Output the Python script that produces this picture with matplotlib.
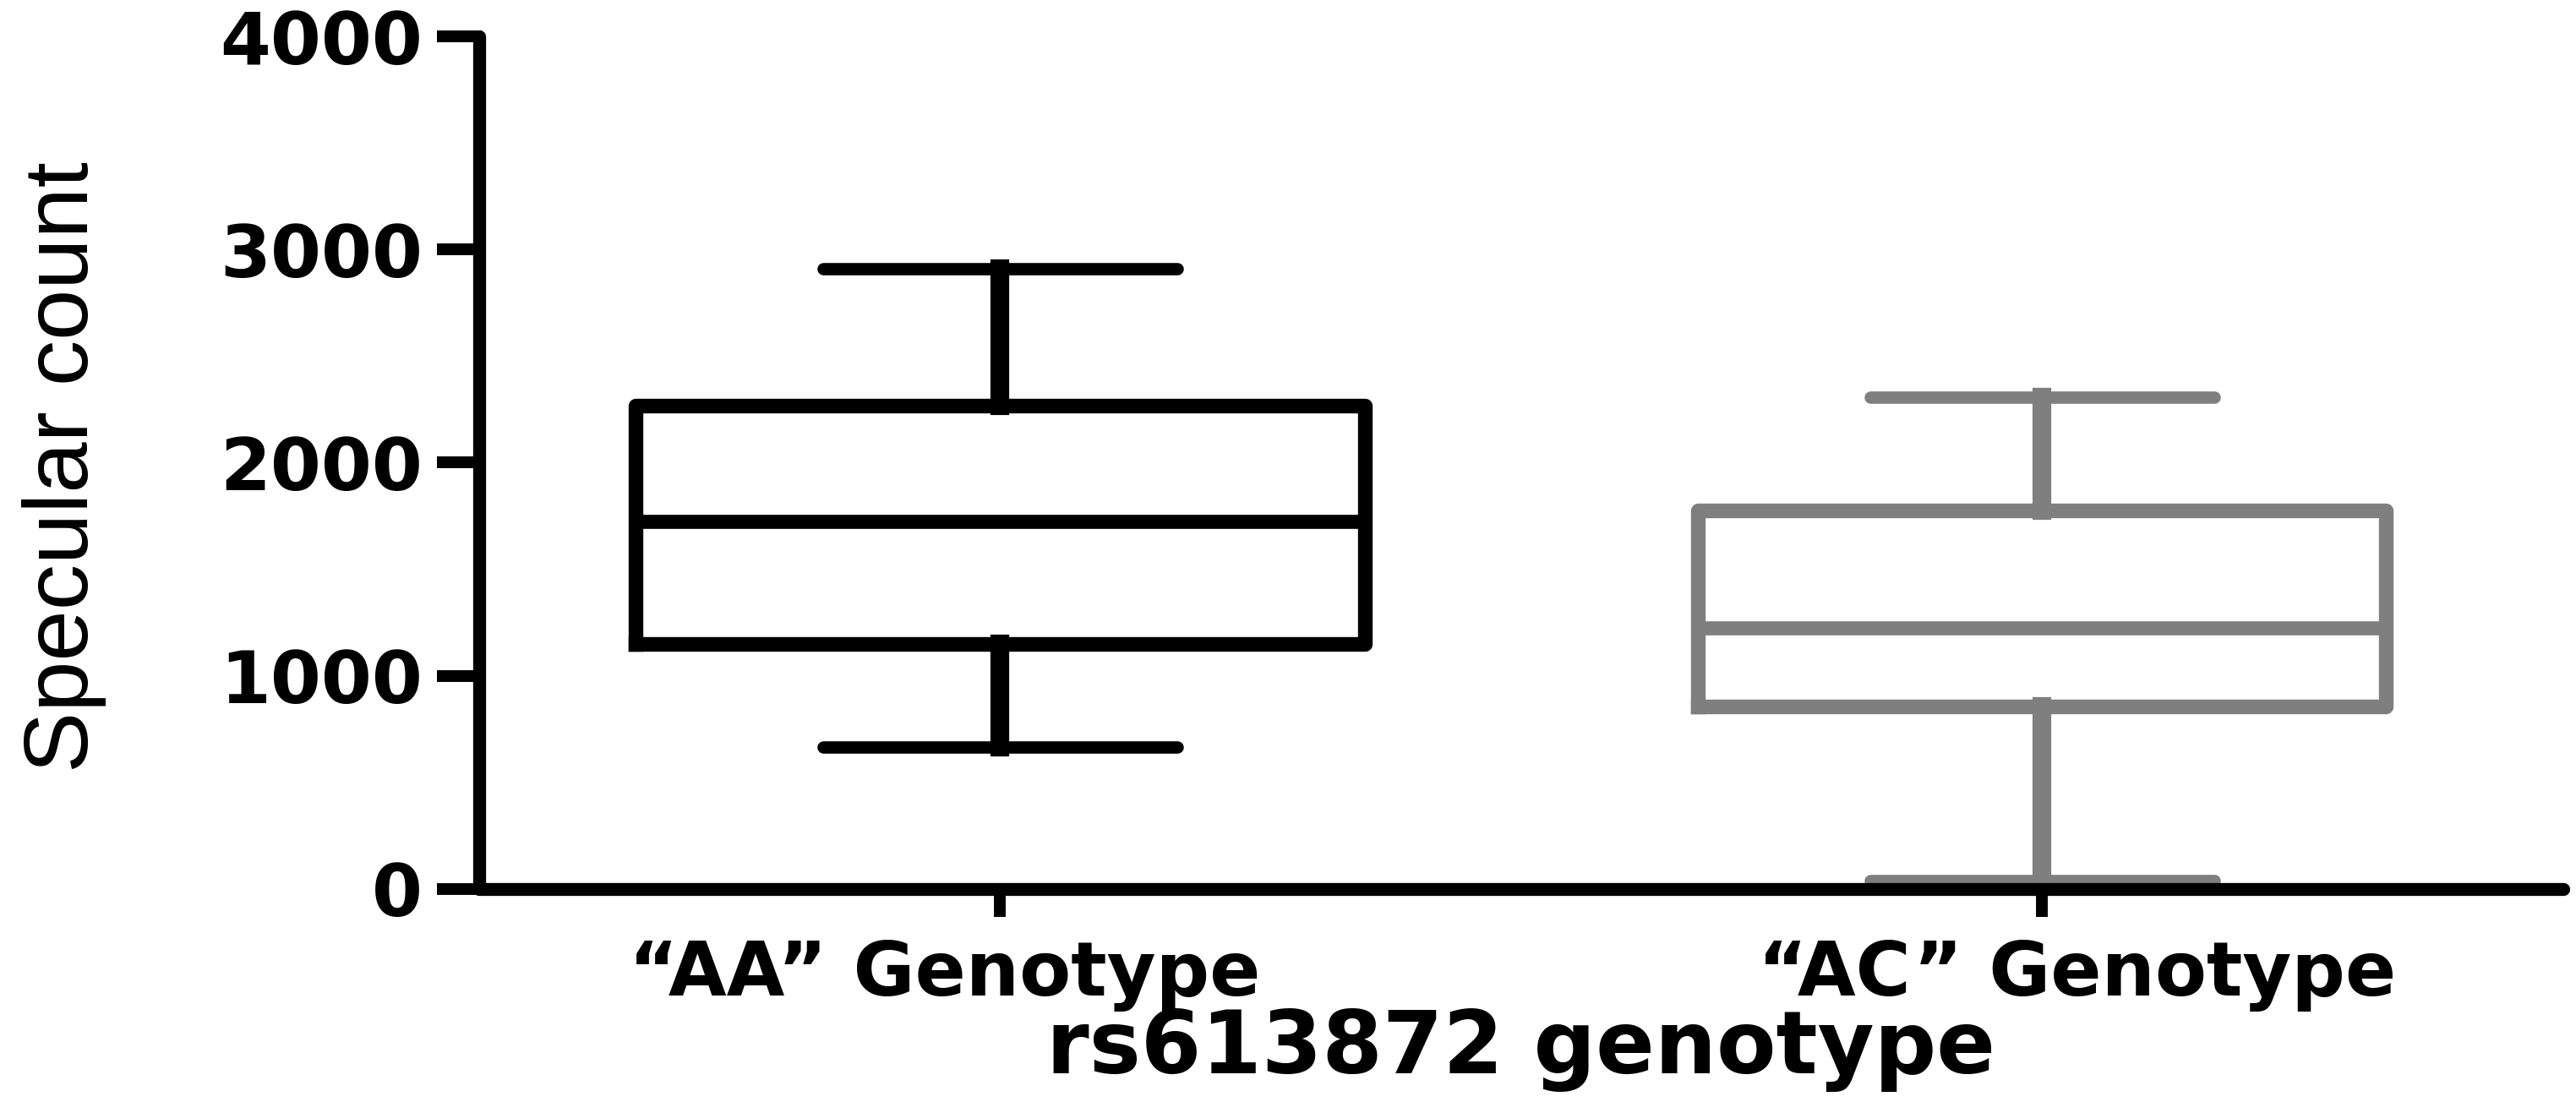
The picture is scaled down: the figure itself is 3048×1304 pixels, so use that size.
import numpy as np
import matplotlib
matplotlib.use("Agg")
import matplotlib.pyplot as plt

# Box summaries
GROUPS   = ["\u201cAA\u201d Genotype", "\u201cAC\u201d Genotype"]
WHISLO   = [665, 38]
Q1       = [1150, 855]
MEDIANS  = [1725, 1223]
Q3       = [2268, 1774]
WHISHI   = [2908, 2306]
COLORS   = ["#000000", "#7f7f7f"]
WIDTHS   = [0.70, 0.66]
CAPW     = [0.34, 0.33]
YTICKS   = [0, 1000, 2000, 3000, 4000]

fig = plt.figure(figsize=(30.48, 13.04), dpi=100)
ax = fig.add_axes([0.186, 0.1933, 0.809, 0.7737])

for i, name in enumerate(GROUPS):
    stats = [{"label": name, "whislo": WHISLO[i], "q1": Q1[i], "med": MEDIANS[i],
              "q3": Q3[i], "whishi": WHISHI[i], "fliers": []}]
    c = COLORS[i]
    ax.bxp(stats, positions=[i + 1], widths=WIDTHS[i], capwidths=CAPW[i],
           showfliers=False, patch_artist=False,
           boxprops={"color": c, "linewidth": 12.5, "solid_joinstyle": "round"},
           medianprops={"color": c, "linewidth": 12},
           whiskerprops={"color": c, "linewidth": 16},
           capprops={"color": c, "linewidth": 10.5, "solid_capstyle": "round"})

ax.set_xlim(0.5, 2.5)
ax.set_ylim(0, 4000)
ax.set_xticks([1, 2])
ax.set_xticklabels([])
ax.set_yticks(YTICKS)
ax.set_yticklabels([str(v) for v in YTICKS], fontsize=62, fontweight="bold",
                   family="DejaVu Sans")

# group labels sit a little off their ticks in the original
for pos, name, dx in zip([1, 2], GROUPS, [-47, 30]):
    ax.annotate(name, xy=(pos, 0), xycoords=("data", "axes fraction"),
                xytext=(dx, -42), textcoords="offset points",
                ha="center", va="top", fontsize=64, fontweight="bold",
                family="DejaVu Sans")

for side in ["top", "right"]:
    ax.spines[side].set_visible(False)
for side in ["left", "bottom"]:
    ax.spines[side].set_linewidth(11)
    ax.spines[side].set_capstyle("round")
ax.tick_params(axis="y", length=36, width=10, pad=12)
ax.tick_params(axis="x", length=24, width=10, pad=14)

ax.set_ylabel("Specular count", fontsize=78, family="Liberation Sans")
ax.yaxis.set_label_coords(-0.179, 0.495)
ax.set_xlabel("rs613872 genotype", fontsize=74, fontweight="bold",
              family="DejaVu Sans")
ax.xaxis.set_label_coords(0.5, -0.138)

fig.savefig("out.png", dpi=100)
